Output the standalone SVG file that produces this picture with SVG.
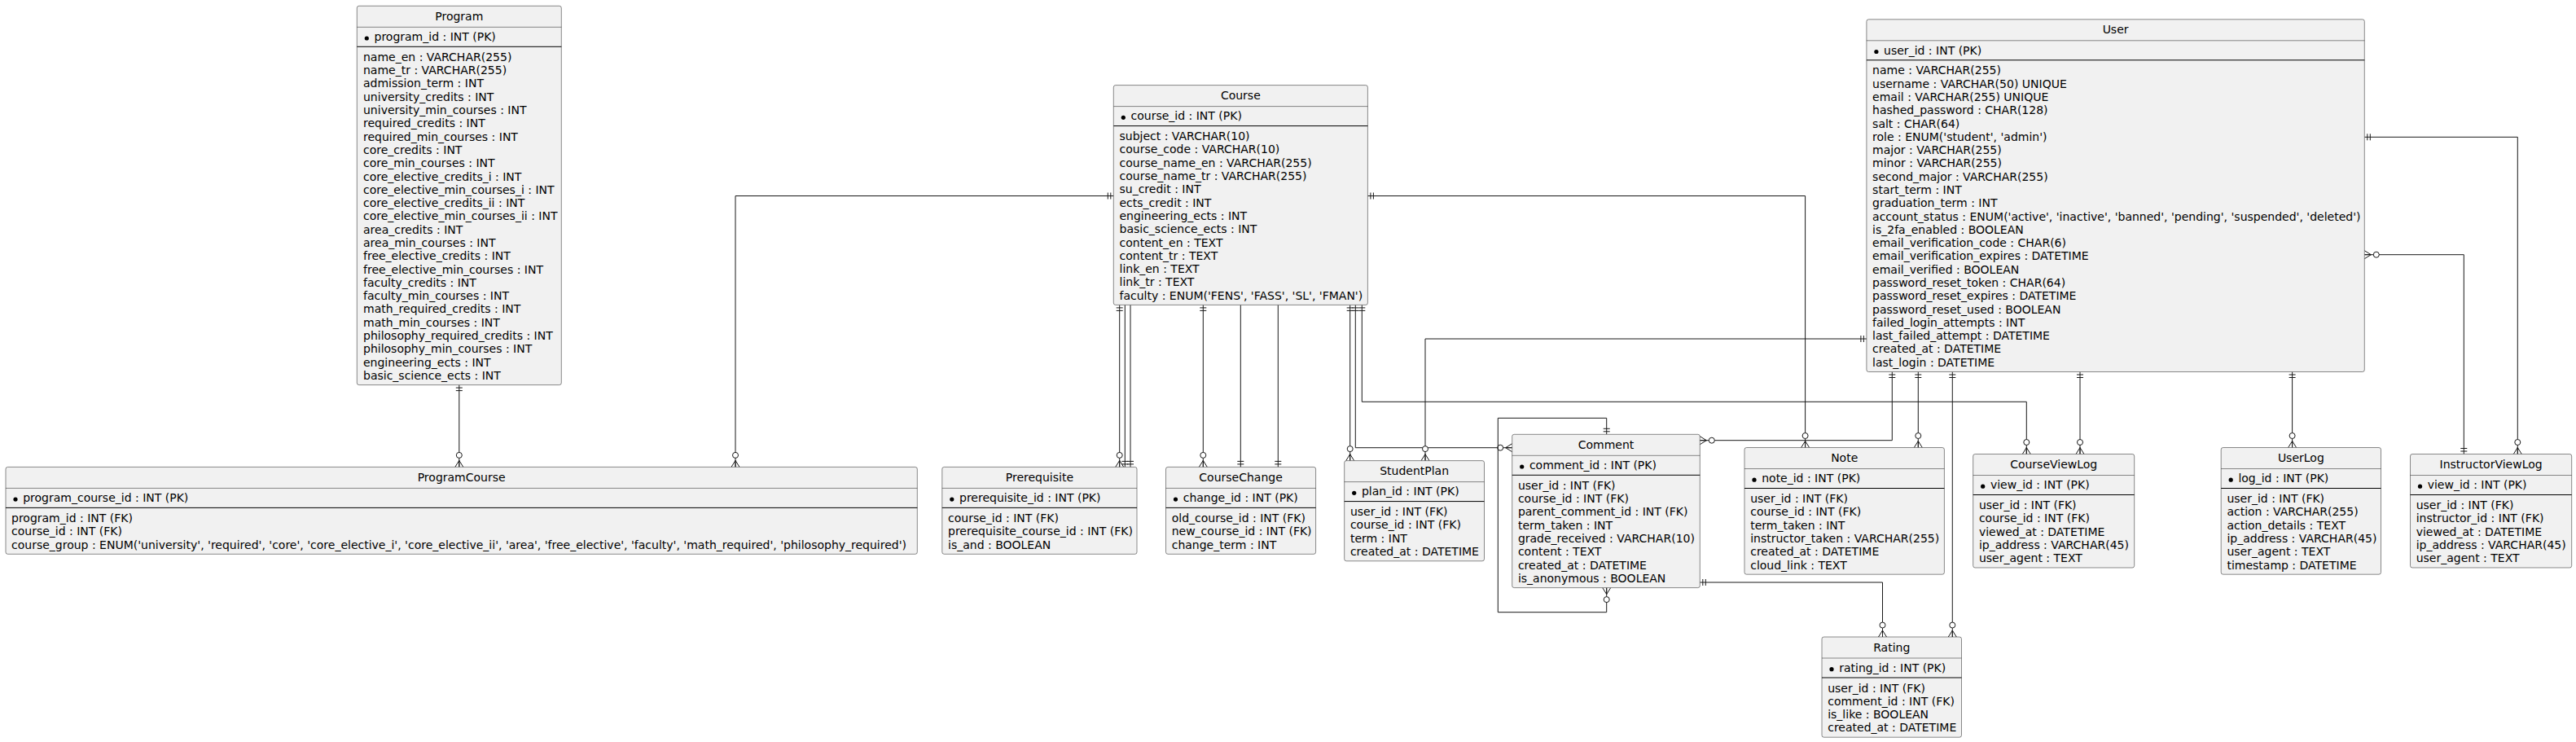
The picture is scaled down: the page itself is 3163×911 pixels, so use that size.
<svg xmlns="http://www.w3.org/2000/svg" width="3163" height="911" viewBox="0 0 3163 911">
<style>
.box{fill:#F1F1F1;stroke:#181818;stroke-width:0.5}
.hd{stroke:#181818;stroke-width:0.5}
.pk{stroke:#000;stroke-width:1}
.bul{fill:#000}
.t{font-family:"DejaVu Sans","Noto Sans",sans-serif;font-size:14px;fill:#000}
.ttl{font-family:"DejaVu Sans","Noto Sans",sans-serif;font-size:14px;fill:#000;text-anchor:middle}
.c{fill:none;stroke:#181818;stroke-width:1}
.m1{marker-start:url(#one);marker-end:url(#many0)}
.m2{marker-end:url(#one)}
.m3{marker-start:url(#many0);marker-end:url(#one)}
</style>
<defs>
<marker id="one" markerUnits="userSpaceOnUse" markerWidth="30" markerHeight="30" refX="0" refY="0" orient="auto-start-reverse" overflow="visible">
<path d="M-3.5,-4V4M-7,-4V4" fill="none" stroke="#181818" stroke-width="1"/>
</marker>
<marker id="many0" markerUnits="userSpaceOnUse" markerWidth="30" markerHeight="30" refX="0" refY="0" orient="auto-start-reverse" overflow="visible">
<path d="M0,-5L-8,0L0,5M-8,0H0" fill="none" stroke="#181818" stroke-width="1"/>
<circle cx="-14.5" cy="0" r="3.5" fill="#fff" stroke="#181818" stroke-width="1"/>
</marker>
</defs>
<rect width="3163" height="911" fill="#fff"/>

<g id="connectors">
<path class="c m1" d="M563.8,472.6V573.4"/>
<path class="c m1" d="M1367.3,240.5H903V573.4"/>
<path class="c m1" d="M1374.7,374.4V573.4"/>
<path class="c m2" d="M1381.3,374.4V573.4"/>
<path class="c m2" d="M1388,374.4V573.4"/>
<path class="c m1" d="M1477.3,374.4V573.4"/>
<path class="c m2" d="M1523.3,374.4V573.4"/>
<path class="c m2" d="M1569.3,374.4V573.4"/>
<path class="c m1" d="M1657.7,374.4V565.6"/>
<path class="c m1" d="M1664.3,374.4V549.7H1856.7"/>
<path class="c m1" d="M1672.3,374.4V493.3H2488.3V557.5"/>
<path class="c m1" d="M2291.9,416H1750V565.6"/>
<path class="c m1" d="M1679.4,240.5H2216.6V549.5"/>
<path class="c m1" d="M1972.7,533.3V513.3H1839.3V751.7H1972.7V721.6"/>
<path class="c m1" d="M2323.3,456.5V540.7H2087.3"/>
<path class="c m1" d="M2087.3,715H2311.5V782"/>
<path class="c m1" d="M2355.3,456.5V549.5"/>
<path class="c m1" d="M2397.3,456.5V782"/>
<path class="c m1" d="M2554,456.5V557.5"/>
<path class="c m1" d="M2814.6,456.5V549.5"/>
<path class="c m1" d="M2903.3,168.3H3091.3V557.5"/>
<path class="c m3" d="M2903.3,312.7H3025.3V557.5"/>
</g>

<g id="Program">
<rect class="box" x="438.3" y="7.3" width="251" height="465.3" rx="2.5"/>
<text class="ttl" x="563.8" y="24.9">Program</text>
<line class="hd" x1="438.3" y1="33.3" x2="689.3" y2="33.3"/>
<circle class="bul" cx="450.3" cy="47" r="2.6"/>
<text class="t" x="459.5" y="50">program_id : INT (PK)</text>
<line class="pk" x1="438.3" y1="57.3" x2="689.3" y2="57.3"/>
<text class="t" x="446" y="74.9"><tspan x="446" dy="0">name_en : VARCHAR(255)</tspan><tspan x="446" dy="16.29">name_tr : VARCHAR(255)</tspan><tspan x="446" dy="16.29">admission_term : INT</tspan><tspan x="446" dy="16.29">university_credits : INT</tspan><tspan x="446" dy="16.29">university_min_courses : INT</tspan><tspan x="446" dy="16.29">required_credits : INT</tspan><tspan x="446" dy="16.29">required_min_courses : INT</tspan><tspan x="446" dy="16.29">core_credits : INT</tspan><tspan x="446" dy="16.29">core_min_courses : INT</tspan><tspan x="446" dy="16.29">core_elective_credits_i : INT</tspan><tspan x="446" dy="16.29">core_elective_min_courses_i : INT</tspan><tspan x="446" dy="16.29">core_elective_credits_ii : INT</tspan><tspan x="446" dy="16.29">core_elective_min_courses_ii : INT</tspan><tspan x="446" dy="16.29">area_credits : INT</tspan><tspan x="446" dy="16.29">area_min_courses : INT</tspan><tspan x="446" dy="16.29">free_elective_credits : INT</tspan><tspan x="446" dy="16.29">free_elective_min_courses : INT</tspan><tspan x="446" dy="16.29">faculty_credits : INT</tspan><tspan x="446" dy="16.29">faculty_min_courses : INT</tspan><tspan x="446" dy="16.29">math_required_credits : INT</tspan><tspan x="446" dy="16.29">math_min_courses : INT</tspan><tspan x="446" dy="16.29">philosophy_required_credits : INT</tspan><tspan x="446" dy="16.29">philosophy_min_courses : INT</tspan><tspan x="446" dy="16.29">engineering_ects : INT</tspan><tspan x="446" dy="16.29">basic_science_ects : INT</tspan></text>
</g>

<g id="ProgramCourse">
<rect class="box" x="7" y="573.4" width="1119.3" height="106.9" rx="2.5"/>
<text class="ttl" x="566.65" y="591">ProgramCourse</text>
<line class="hd" x1="7" y1="599.4" x2="1126.3" y2="599.4"/>
<circle class="bul" cx="19" cy="613.1" r="2.6"/>
<text class="t" x="28.2" y="616.1">program_course_id : INT (PK)</text>
<line class="pk" x1="7" y1="623.4" x2="1126.3" y2="623.4"/>
<text class="t" x="14" y="641"><tspan x="14" dy="0">program_id : INT (FK)</tspan><tspan x="14" dy="16.29">course_id : INT (FK)</tspan><tspan x="14" dy="16.29">course_group : ENUM('university', 'required', 'core', 'core_elective_i', 'core_elective_ii', 'area', 'free_elective', 'faculty', 'math_required', 'philosophy_required')</tspan></text>
</g>

<g id="Course">
<rect class="box" x="1367.3" y="104.6" width="312.1" height="269.8" rx="2.5"/>
<text class="ttl" x="1523.35" y="122.2">Course</text>
<line class="hd" x1="1367.3" y1="130.6" x2="1679.4" y2="130.6"/>
<circle class="bul" cx="1379.3" cy="144.3" r="2.6"/>
<text class="t" x="1388.5" y="147.3">course_id : INT (PK)</text>
<line class="pk" x1="1367.3" y1="154.6" x2="1679.4" y2="154.6"/>
<text class="t" x="1374.5" y="172.2"><tspan x="1374.5" dy="0">subject : VARCHAR(10)</tspan><tspan x="1374.5" dy="16.29">course_code : VARCHAR(10)</tspan><tspan x="1374.5" dy="16.29">course_name_en : VARCHAR(255)</tspan><tspan x="1374.5" dy="16.29">course_name_tr : VARCHAR(255)</tspan><tspan x="1374.5" dy="16.29">su_credit : INT</tspan><tspan x="1374.5" dy="16.29">ects_credit : INT</tspan><tspan x="1374.5" dy="16.29">engineering_ects : INT</tspan><tspan x="1374.5" dy="16.29">basic_science_ects : INT</tspan><tspan x="1374.5" dy="16.29">content_en : TEXT</tspan><tspan x="1374.5" dy="16.29">content_tr : TEXT</tspan><tspan x="1374.5" dy="16.29">link_en : TEXT</tspan><tspan x="1374.5" dy="16.29">link_tr : TEXT</tspan><tspan x="1374.5" dy="16.29">faculty : ENUM('FENS', 'FASS', 'SL', 'FMAN')</tspan></text>
</g>

<g id="Prerequisite">
<rect class="box" x="1156.8" y="573.4" width="239.2" height="106.9" rx="2.5"/>
<text class="ttl" x="1276.4" y="591">Prerequisite</text>
<line class="hd" x1="1156.8" y1="599.4" x2="1396" y2="599.4"/>
<circle class="bul" cx="1168.8" cy="613.1" r="2.6"/>
<text class="t" x="1178" y="616.1">prerequisite_id : INT (PK)</text>
<line class="pk" x1="1156.8" y1="623.4" x2="1396" y2="623.4"/>
<text class="t" x="1164" y="641"><tspan x="1164" dy="0">course_id : INT (FK)</tspan><tspan x="1164" dy="16.29">prerequisite_course_id : INT (FK)</tspan><tspan x="1164" dy="16.29">is_and : BOOLEAN</tspan></text>
</g>

<g id="CourseChange">
<rect class="box" x="1431.5" y="573.4" width="184.1" height="106.9" rx="2.5"/>
<text class="ttl" x="1523.55" y="591">CourseChange</text>
<line class="hd" x1="1431.5" y1="599.4" x2="1615.6" y2="599.4"/>
<circle class="bul" cx="1443.5" cy="613.1" r="2.6"/>
<text class="t" x="1452.7" y="616.1">change_id : INT (PK)</text>
<line class="pk" x1="1431.5" y1="623.4" x2="1615.6" y2="623.4"/>
<text class="t" x="1438.7" y="641"><tspan x="1438.7" dy="0">old_course_id : INT (FK)</tspan><tspan x="1438.7" dy="16.29">new_course_id : INT (FK)</tspan><tspan x="1438.7" dy="16.29">change_term : INT</tspan></text>
</g>

<g id="StudentPlan">
<rect class="box" x="1650.7" y="565.6" width="171.8" height="123.2" rx="2.5"/>
<text class="ttl" x="1736.6" y="583.2">StudentPlan</text>
<line class="hd" x1="1650.7" y1="591.6" x2="1822.5" y2="591.6"/>
<circle class="bul" cx="1662.7" cy="605.3" r="2.6"/>
<text class="t" x="1671.9" y="608.3">plan_id : INT (PK)</text>
<line class="pk" x1="1650.7" y1="615.6" x2="1822.5" y2="615.6"/>
<text class="t" x="1657.9" y="633.2"><tspan x="1657.9" dy="0">user_id : INT (FK)</tspan><tspan x="1657.9" dy="16.29">course_id : INT (FK)</tspan><tspan x="1657.9" dy="16.29">term : INT</tspan><tspan x="1657.9" dy="16.29">created_at : DATETIME</tspan></text>
</g>

<g id="Comment">
<rect class="box" x="1856.7" y="533.3" width="230.6" height="188.3" rx="2.5"/>
<text class="ttl" x="1972" y="550.9">Comment</text>
<line class="hd" x1="1856.7" y1="559.3" x2="2087.3" y2="559.3"/>
<circle class="bul" cx="1868.7" cy="573" r="2.6"/>
<text class="t" x="1877.9" y="576">comment_id : INT (PK)</text>
<line class="pk" x1="1856.7" y1="583.3" x2="2087.3" y2="583.3"/>
<text class="t" x="1863.9" y="600.9"><tspan x="1863.9" dy="0">user_id : INT (FK)</tspan><tspan x="1863.9" dy="16.29">course_id : INT (FK)</tspan><tspan x="1863.9" dy="16.29">parent_comment_id : INT (FK)</tspan><tspan x="1863.9" dy="16.29">term_taken : INT</tspan><tspan x="1863.9" dy="16.29">grade_received : VARCHAR(10)</tspan><tspan x="1863.9" dy="16.29">content : TEXT</tspan><tspan x="1863.9" dy="16.29">created_at : DATETIME</tspan><tspan x="1863.9" dy="16.29">is_anonymous : BOOLEAN</tspan></text>
</g>

<g id="Note">
<rect class="box" x="2142" y="549.5" width="245.4" height="155.7" rx="2.5"/>
<text class="ttl" x="2264.7" y="567.1">Note</text>
<line class="hd" x1="2142" y1="575.5" x2="2387.4" y2="575.5"/>
<circle class="bul" cx="2154" cy="589.2" r="2.6"/>
<text class="t" x="2163.2" y="592.2">note_id : INT (PK)</text>
<line class="pk" x1="2142" y1="599.5" x2="2387.4" y2="599.5"/>
<text class="t" x="2149.2" y="617.1"><tspan x="2149.2" dy="0">user_id : INT (FK)</tspan><tspan x="2149.2" dy="16.29">course_id : INT (FK)</tspan><tspan x="2149.2" dy="16.29">term_taken : INT</tspan><tspan x="2149.2" dy="16.29">instructor_taken : VARCHAR(255)</tspan><tspan x="2149.2" dy="16.29">created_at : DATETIME</tspan><tspan x="2149.2" dy="16.29">cloud_link : TEXT</tspan></text>
</g>

<g id="User">
<rect class="box" x="2291.9" y="23.8" width="611.4" height="432.7" rx="2.5"/>
<text class="ttl" x="2597.6" y="41.4">User</text>
<line class="hd" x1="2291.9" y1="49.8" x2="2903.3" y2="49.8"/>
<circle class="bul" cx="2303.9" cy="63.5" r="2.6"/>
<text class="t" x="2313.1" y="66.5">user_id : INT (PK)</text>
<line class="pk" x1="2291.9" y1="73.8" x2="2903.3" y2="73.8"/>
<text class="t" x="2299.1" y="91.4"><tspan x="2299.1" dy="0">name : VARCHAR(255)</tspan><tspan x="2299.1" dy="16.29">username : VARCHAR(50) UNIQUE</tspan><tspan x="2299.1" dy="16.29">email : VARCHAR(255) UNIQUE</tspan><tspan x="2299.1" dy="16.29">hashed_password : CHAR(128)</tspan><tspan x="2299.1" dy="16.29">salt : CHAR(64)</tspan><tspan x="2299.1" dy="16.29">role : ENUM('student', 'admin')</tspan><tspan x="2299.1" dy="16.29">major : VARCHAR(255)</tspan><tspan x="2299.1" dy="16.29">minor : VARCHAR(255)</tspan><tspan x="2299.1" dy="16.29">second_major : VARCHAR(255)</tspan><tspan x="2299.1" dy="16.29">start_term : INT</tspan><tspan x="2299.1" dy="16.29">graduation_term : INT</tspan><tspan x="2299.1" dy="16.29">account_status : ENUM('active', 'inactive', 'banned', 'pending', 'suspended', 'deleted')</tspan><tspan x="2299.1" dy="16.29">is_2fa_enabled : BOOLEAN</tspan><tspan x="2299.1" dy="16.29">email_verification_code : CHAR(6)</tspan><tspan x="2299.1" dy="16.29">email_verification_expires : DATETIME</tspan><tspan x="2299.1" dy="16.29">email_verified : BOOLEAN</tspan><tspan x="2299.1" dy="16.29">password_reset_token : CHAR(64)</tspan><tspan x="2299.1" dy="16.29">password_reset_expires : DATETIME</tspan><tspan x="2299.1" dy="16.29">password_reset_used : BOOLEAN</tspan><tspan x="2299.1" dy="16.29">failed_login_attempts : INT</tspan><tspan x="2299.1" dy="16.29">last_failed_attempt : DATETIME</tspan><tspan x="2299.1" dy="16.29">created_at : DATETIME</tspan><tspan x="2299.1" dy="16.29">last_login : DATETIME</tspan></text>
</g>

<g id="CourseViewLog">
<rect class="box" x="2422.7" y="557.5" width="198" height="139.5" rx="2.5"/>
<text class="ttl" x="2521.7" y="575.1">CourseViewLog</text>
<line class="hd" x1="2422.7" y1="583.5" x2="2620.7" y2="583.5"/>
<circle class="bul" cx="2434.7" cy="597.2" r="2.6"/>
<text class="t" x="2443.9" y="600.2">view_id : INT (PK)</text>
<line class="pk" x1="2422.7" y1="607.5" x2="2620.7" y2="607.5"/>
<text class="t" x="2429.9" y="625.1"><tspan x="2429.9" dy="0">user_id : INT (FK)</tspan><tspan x="2429.9" dy="16.29">course_id : INT (FK)</tspan><tspan x="2429.9" dy="16.29">viewed_at : DATETIME</tspan><tspan x="2429.9" dy="16.29">ip_address : VARCHAR(45)</tspan><tspan x="2429.9" dy="16.29">user_agent : TEXT</tspan></text>
</g>

<g id="UserLog">
<rect class="box" x="2727.2" y="549.5" width="196.3" height="155.7" rx="2.5"/>
<text class="ttl" x="2825.35" y="567.1">UserLog</text>
<line class="hd" x1="2727.2" y1="575.5" x2="2923.5" y2="575.5"/>
<circle class="bul" cx="2739.2" cy="589.2" r="2.6"/>
<text class="t" x="2748.4" y="592.2">log_id : INT (PK)</text>
<line class="pk" x1="2727.2" y1="599.5" x2="2923.5" y2="599.5"/>
<text class="t" x="2734.4" y="617.1"><tspan x="2734.4" dy="0">user_id : INT (FK)</tspan><tspan x="2734.4" dy="16.29">action : VARCHAR(255)</tspan><tspan x="2734.4" dy="16.29">action_details : TEXT</tspan><tspan x="2734.4" dy="16.29">ip_address : VARCHAR(45)</tspan><tspan x="2734.4" dy="16.29">user_agent : TEXT</tspan><tspan x="2734.4" dy="16.29">timestamp : DATETIME</tspan></text>
</g>

<g id="InstructorViewLog">
<rect class="box" x="2959.5" y="557.5" width="198.2" height="139.5" rx="2.5"/>
<text class="ttl" x="3058.6" y="575.1">InstructorViewLog</text>
<line class="hd" x1="2959.5" y1="583.5" x2="3157.7" y2="583.5"/>
<circle class="bul" cx="2971.5" cy="597.2" r="2.6"/>
<text class="t" x="2980.7" y="600.2">view_id : INT (PK)</text>
<line class="pk" x1="2959.5" y1="607.5" x2="3157.7" y2="607.5"/>
<text class="t" x="2966.7" y="625.1"><tspan x="2966.7" dy="0">user_id : INT (FK)</tspan><tspan x="2966.7" dy="16.29">instructor_id : INT (FK)</tspan><tspan x="2966.7" dy="16.29">viewed_at : DATETIME</tspan><tspan x="2966.7" dy="16.29">ip_address : VARCHAR(45)</tspan><tspan x="2966.7" dy="16.29">user_agent : TEXT</tspan></text>
</g>

<g id="Rating">
<rect class="box" x="2237" y="782" width="171.5" height="123.2" rx="2.5"/>
<text class="ttl" x="2322.75" y="799.6">Rating</text>
<line class="hd" x1="2237" y1="808" x2="2408.5" y2="808"/>
<circle class="bul" cx="2249" cy="821.7" r="2.6"/>
<text class="t" x="2258.2" y="824.7">rating_id : INT (PK)</text>
<line class="pk" x1="2237" y1="832" x2="2408.5" y2="832"/>
<text class="t" x="2244.2" y="849.6"><tspan x="2244.2" dy="0">user_id : INT (FK)</tspan><tspan x="2244.2" dy="16.29">comment_id : INT (FK)</tspan><tspan x="2244.2" dy="16.29">is_like : BOOLEAN</tspan><tspan x="2244.2" dy="16.29">created_at : DATETIME</tspan></text>
</g>
</svg>
